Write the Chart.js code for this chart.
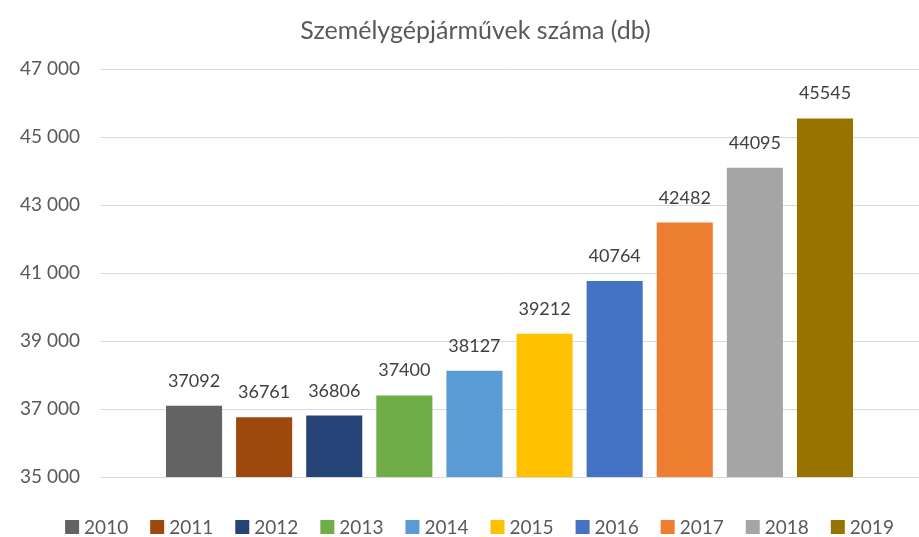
<!DOCTYPE html>
<html>
<head>
<meta charset="utf-8">
<script src="https://cdn.jsdelivr.net/npm/chart.js@4"></script>
<style>
  html, body { margin: 0; padding: 0; background: #fff; }
  #wrap { width: 919px; height: 537px; }
</style>
</head>
<body>
<div id="wrap"><canvas id="myChart"></canvas></div>
<script>
// --- data --- //
let years = ["2010", "2011", "2012", "2013", "2014", "2015", "2016", "2017", "2018", "2019"];
let cars = [37092, 36761, 36806, 37400, 38127, 39212, 40764, 42482, 44095, 45545];
let colors = ["#636363", "#9E480E", "#264478", "#70AD47", "#5B9BD5", "#FFC000", "#4472C4", "#ED7D31", "#A5A5A5", "#997300"];
let yTicks = [35000, 37000, 39000, 41000, 43000, 45000, 47000];
let chartTitle = "Személygépjárművek száma (db)";

const fontFamily = "Lato, 'Open Sans', sans-serif";

// one dataset per year, like the excel chart
let datasets = years.map((year, i) => ({
  label: year,
  data: [cars[i]],
  backgroundColor: colors[i],
  borderWidth: 0,
  barPercentage: 0.8,
  categoryPercentage: 0.856,
}));

function formatThousands(value) {
  return value.toString().replace(/\B(?=(\d{3})+(?!\d))/g, " ");
}

// --- title (excel frame is a bit off-centre) --- //
const topTitle = {
  id: "topTitle",
  afterDraw(chart) {
    const ctx = chart.ctx;
    ctx.save();
    ctx.font = "25px " + fontFamily;
    ctx.fillStyle = "#595959";
    ctx.textAlign = "center";
    ctx.textBaseline = "middle";
    ctx.fillText(chartTitle, chart.width / 2 + 16, 31);
    ctx.restore();
  },
};

// --- data labels above bars --- //
const barLabels = {
  id: "barLabels",
  afterDatasetsDraw(chart) {
    const ctx = chart.ctx;
    ctx.save();
    ctx.font = "18px " + fontFamily;
    ctx.fillStyle = "#404040";
    ctx.textAlign = "center";
    ctx.textBaseline = "alphabetic";
    chart.data.datasets.forEach((ds, i) => {
      let meta = chart.getDatasetMeta(i);
      meta.data.forEach((bar, j) => {
        ctx.fillText(ds.data[j], bar.x, bar.y - 19);
      });
    });
    ctx.restore();
  },
};

// --- legend (drawn by hand so it sits like excel's) --- //
const bottomLegend = {
  id: "bottomLegend",
  afterDraw(chart) {
    const ctx = chart.ctx;
    const box = 14;
    const textGap = 5;
    const itemGap = 22;
    ctx.save();
    ctx.font = "19px " + fontFamily;
    ctx.textBaseline = "middle";
    ctx.textAlign = "left";
    let widths = years.map((y) => box + textGap + ctx.measureText(y).width);
    let total = widths.reduce((a, b) => a + b, 0) + itemGap * (years.length - 1);
    let x = chart.width / 2 + 20 - total / 2;
    let y = chart.height - 10;
    years.forEach((year, i) => {
      ctx.fillStyle = colors[i];
      ctx.fillRect(x, y - box / 2, box, box);
      ctx.fillStyle = "#595959";
      ctx.fillText(year, x + box + textGap, y + 1);
      x += widths[i] + itemGap;
    });
    ctx.restore();
  },
};

new Chart(document.getElementById("myChart"), {
  type: "bar",
  data: {
    labels: [""],
    datasets: datasets,
  },
  options: {
    responsive: true,
    maintainAspectRatio: false,
    animation: false,
    layout: {
      padding: { left: 0, right: 0, top: 69, bottom: 52 },
    },
    scales: {
      x: {
        grid: { display: false },
        border: { display: false },
        ticks: { display: false },
      },
      y: {
        min: 35000,
        max: 47000,
        afterBuildTicks(scale) {
          scale.ticks = yTicks.map((v) => ({ value: v }));
        },
        afterFit(scale) {
          scale.width = 100;
        },
        grid: { color: "#d9d9d9", drawTicks: false },
        border: { display: false },
        ticks: {
          padding: 20,
          color: "#595959",
          font: { family: fontFamily, size: 19 },
          callback: (value) => formatThousands(value),
        },
      },
    },
    plugins: {
      title: { display: false },
      legend: { display: false },
      tooltip: { enabled: false },
    },
  },
  plugins: [topTitle, barLabels, bottomLegend],
});
</script>
</body>
</html>
